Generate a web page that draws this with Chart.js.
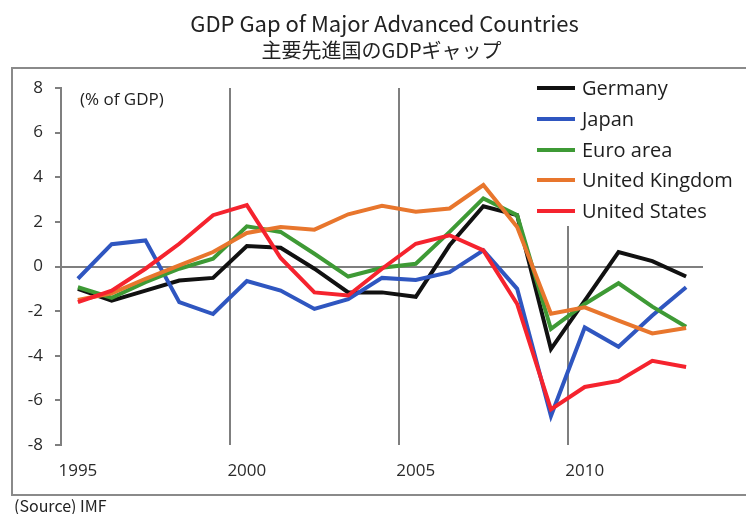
<!DOCTYPE html>
<html>
<head>
<meta charset="utf-8">
<script src="https://cdn.jsdelivr.net/npm/chart.js@4"></script>
<style>
  html, body { margin: 0; padding: 0; background: #fff; overflow: hidden; }
  #wrap { position: relative; width: 746px; height: 514px; }
  #c { position: absolute; left: 0; top: 0; }
  #frame { position: absolute; left: 11px; top: 67px; width: 745px; height: 425px; border: 2px solid #8a8a8a; pointer-events: none; }
  #legend { position: absolute; left: 533px; top: 72px; width: 212px; height: 154px; background: #fff; font-family: "Open Sans", sans-serif; font-size: 20px; color: #1e1e1e; }
  .item { position: absolute; left: 0; height: 31px; width: 212px; }
  .swatch { position: absolute; left: 4px; top: 14px; width: 38px; height: 4px; }
  .lbl { position: absolute; left: 49px; top: 0; line-height: 31px; white-space: nowrap; }
  #unit { position: absolute; left: 80px; top: 88px; font-family: "Open Sans", sans-serif; font-size: 17px; line-height: 22px; color: #1e1e1e; }
  #source { position: absolute; left: 14px; top: 496px; font-family: "Noto Sans CJK JP", sans-serif; font-size: 16px; line-height: 18px; color: #222; }
</style>
</head>
<body>
<div id="wrap">
  <canvas id="c" width="746" height="514"></canvas>
  <div id="frame"></div>
  <div id="unit">(% of GDP)</div>
  <div id="legend"></div>
  <div id="source">(Source) IMF</div>
</div>
<script>
const years = ['1995','1996','1997','1998','1999','2000','2001','2002','2003','2004','2005','2006','2007','2008','2009','2010','2011','2012','2013'];
const germany  = [-1.0, -1.53, -1.08, -0.63, -0.51, 0.92, 0.84, -0.1, -1.16, -1.16, -1.36, 0.95, 2.7, 2.3, -3.7, -1.53, 0.65, 0.24, -0.45];
const japan    = [-0.55, 1.0, 1.17, -1.6, -2.13, -0.65, -1.08, -1.9, -1.46, -0.51, -0.6, -0.25, 0.72, -1.0, -6.7, -2.73, -3.6, -2.2, -0.93];
const euroArea = [-0.93, -1.4, -0.7, -0.1, 0.35, 1.8, 1.55, 0.57, -0.45, -0.06, 0.12, 1.55, 3.05, 2.3, -2.8, -1.68, -0.75, -1.8, -2.7];
const uk       = [-1.5, -1.2, -0.55, 0.05, 0.65, 1.5, 1.77, 1.65, 2.34, 2.72, 2.45, 2.6, 3.65, 1.77, -2.12, -1.83, -2.43, -3.0, -2.76];
const us       = [-1.6, -1.08, -0.1, 1.02, 2.3, 2.75, 0.38, -1.16, -1.3, -0.1, 1.02, 1.4, 0.72, -1.68, -6.4, -5.4, -5.13, -4.23, -4.5];
const seriesNames = ['Germany', 'Japan', 'Euro area', 'United Kingdom', 'United States'];
const seriesColors = ['#111111', '#2f56c0', '#3e9a35', '#e8762d', '#f5232e'];
const yTicks = [-8, -6, -4, -2, 0, 2, 4, 6, 8];
const titleText = 'GDP Gap of Major Advanced Countries';
const subtitleText = '主要先進国のGDPギャップ';

const seriesData = [germany, japan, euroArea, uk, us];
const gridGray = '#7f7f7f';

const datasets = seriesNames.map((name, i) => ({
  label: name,
  data: seriesData[i],
  borderColor: seriesColors[i],
  backgroundColor: seriesColors[i],
  borderWidth: 4,
  pointRadius: 0,
  tension: 0,
  fill: false,
  order: seriesNames.length - i
}));

// HTML legend
const legend = document.getElementById('legend');
seriesNames.forEach((name, i) => {
  const it = document.createElement('div');
  it.className = 'item';
  it.style.top = (i * 30.8) + 'px';
  it.innerHTML = '<div class="swatch" style="background:' + seriesColors[i] + '"></div><div class="lbl">' + name + '</div>';
  legend.appendChild(it);
});

// shift the title blocks horizontally so they are centred like the reference
const shiftTitles = {
  id: 'shiftTitles',
  afterLayout(chart) {
    chart.boxes.forEach((b) => {
      if (b.options && b.options.text !== undefined && b.position === 'top') {
        const dx = (b.options.text === titleText) ? 23 : 20;
        b.left += dx;
        b.right += dx;
      }
    });
  }
};

new Chart(document.getElementById('c'), {
  type: 'line',
  data: { labels: years, datasets: datasets },
  plugins: [shiftTitles],
  options: {
    responsive: false,
    animation: false,
    devicePixelRatio: 1,
    layout: { padding: { left: 20, right: 43, top: 0, bottom: 29 } },
    plugins: {
      legend: { display: false },
      tooltip: { enabled: false },
      title: {
        display: true,
        text: titleText,
        color: '#222',
        font: { family: '"Noto Sans CJK JP", sans-serif', size: 22, weight: 'normal', lineHeight: '26px' },
        padding: { top: 11, bottom: 0 }
      },
      subtitle: {
        display: true,
        text: subtitleText,
        color: '#222',
        font: { family: '"Noto Sans CJK JP", sans-serif', size: 20, weight: 'normal', lineHeight: '26px' },
        padding: { top: 0, bottom: 25 }
      }
    },
    scales: {
      x: {
        type: 'category',
        offset: true,
        border: { display: false },
        grid: {
          offset: true,
          drawTicks: false,
          lineWidth: 2,
          color: (ctx) => (ctx.tick && (+years[ctx.index]) % 5 === 0) ? gridGray : 'rgba(0,0,0,0)'
        },
        ticks: {
          autoSkip: false,
          maxRotation: 0,
          padding: 16,
          color: '#2a2a2a',
          font: { family: '"Open Sans", sans-serif', size: 17 },
          callback: function(v, i) { return (+years[i]) % 5 === 0 ? years[i] : ''; }
        },
        afterFit: (s) => { s.height = 40; }
      },
      y: {
        min: -8,
        max: 8,
        afterBuildTicks: (s) => { s.ticks = yTicks.map(v => ({ value: v })); },
        border: { display: true, color: gridGray, width: 2 },
        grid: {
          lineWidth: 2,
          drawTicks: true,
          tickLength: 6,
          tickColor: gridGray,
          tickWidth: 2,
          color: (ctx) => (ctx.tick && ctx.tick.value === 0) ? gridGray : 'rgba(0,0,0,0)'
        },
        ticks: {
          padding: 12,
          color: '#2a2a2a',
          font: { family: '"Open Sans", sans-serif', size: 17 }
        },
        afterFit: (s) => { s.width = 41; }
      }
    }
  }
});
</script>
</body>
</html>
